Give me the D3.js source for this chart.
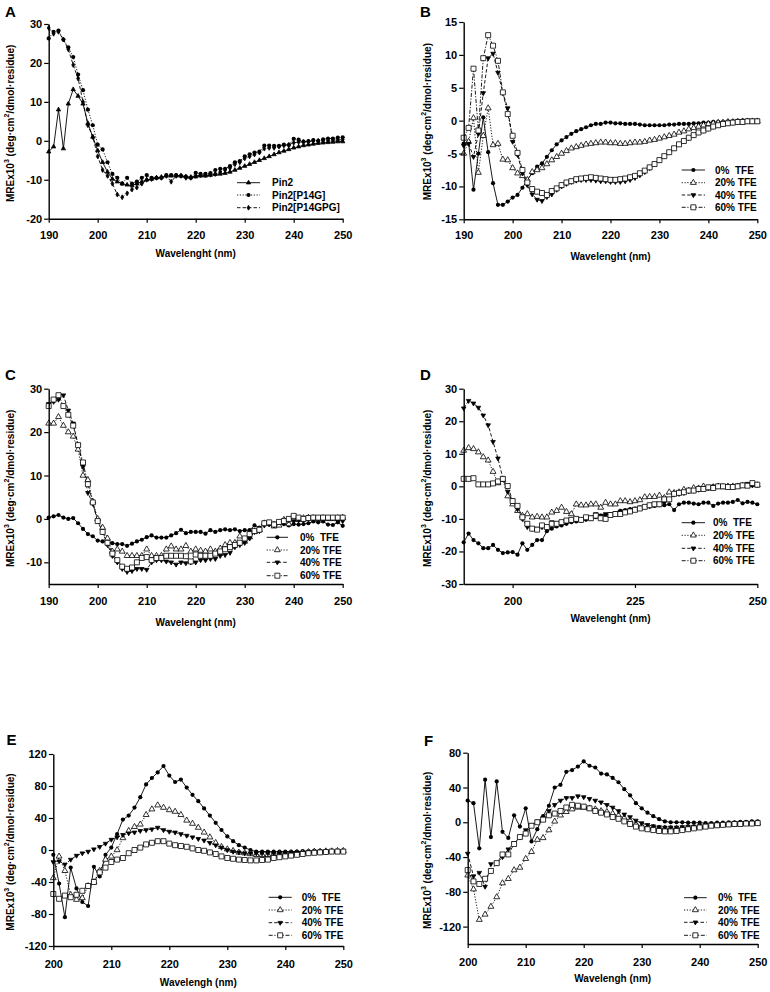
<!DOCTYPE html>
<html>
<head>
<meta charset="utf-8">
<script src="https://cdn.jsdelivr.net/npm/d3@7"></script>
<style>
  html, body { margin: 0; padding: 0; background: #fff; }
  svg { display: block; }
  text { font-family: "Liberation Sans", Arial, Helvetica, sans-serif; font-weight: bold; fill: #000; }
</style>
</head>
<body>
<svg id="chart" width="770" height="992"></svg>
<script>
// ---------------- DATA ----------------
const wl190 = [190,191,192,193,194,195,196,197,198,199,200,201,202,203,204,205,206,207,208,209,210,
  211,212,213,214,215,216,217,218,219,220,221,222,223,224,225,226,227,228,229,230,
  231,232,233,234,235,236,237,238,239,240,241,242,243,244,245,246,247,248,249,250];
const wl200 = [200,201,202,203,204,205,206,207,208,209,210,
  211,212,213,214,215,216,217,218,219,220,221,222,223,224,225,226,227,228,229,230,
  231,232,233,234,235,236,237,238,239,240,241,242,243,244,245,246,247,248,249,250];

// Panel A
const seriesNamesA = ["Pin2", "Pin2[P14G]", "Pin2[P14GPG]"];
const aPin2 = [-2.8,-1.5,8,-2,9.5,13.2,11.5,9.5,4.5,1,-2.5,
  -5.5,-8,-9.8,-10.5,-11,-11.3,-11.5,-11,-10.5,-10,
  -9.8,-9.5,-9.3,-9,-9,-9,-9,-9.2,-9.3,-9.2,
  -9,-9,-8.8,-8.6,-8.5,-8.3,-8,-7.5,-7,-6.5,
  -6,-5.5,-5,-4.5,-4,-3.5,-3,-2.6,-2.2,-1.8,
  -1.5,-1.2,-1,-0.8,-0.6,-0.5,-0.4,-0.3,-0.2,-0.2];
const aP14G = [26.3,28,28.3,26,24,21.5,17,13,8,4,-1,
  -2.2,-5.5,-8.5,-9.5,-11,-9.5,-11,-10.5,-9.5,-8.8,
  -9.5,-9.5,-9.5,-8.8,-8.8,-8.8,-9,-9.2,-9.5,-8.2,
  -8.5,-8.5,-8.3,-7.5,-7.2,-7.2,-6.5,-5.5,-5.2,-4,
  -3.5,-3,-2.8,-1.2,-1.2,-1.3,-1.3,-1,-1.1,0.5,
  0.3,-0.2,-0.1,0.2,0,0.4,0.6,0.6,0.8,0.9];
const aP14GPG = [29,27.5,28,26,23.5,19.5,16,10,4,1,-4,
  -7.5,-9,-11,-13.8,-14.5,-13.5,-12.5,-12,-11,-10,
  -9.8,-9.5,-9.5,-9,-10.5,-9,-9,-9.5,-9.5,-9,
  -8.8,-8.8,-8.7,-8.5,-8,-7.5,-7,-6,-5.5,-4.5,
  -4,-3.5,-3,-2,-1.8,-1.8,-1.5,-1.2,-1,-0.5,
  -0.3,-0.3,-0.2,0,0,0,0,0.2,0.2,0.3];

const tfeNames = ["0%  TFE", "20% TFE", "40% TFE", "60% TFE"];

// Panel B
const b0 = [-3.5,-3.2,-10.5,-5,0.5,-4.8,-9.5,-12.8,-12.8,-12.3,-11.7,
  -11.3,-10.2,-9,-8,-7,-6.5,-5.5,-4.5,-3.6,-3,
  -2.5,-2,-1.6,-1.3,-1,-0.7,-0.5,-0.5,-0.3,-0.3,
  -0.4,-0.4,-0.5,-0.5,-0.5,-0.6,-0.7,-0.7,-0.7,-0.7,
  -0.7,-0.6,-0.6,-0.5,-0.5,-0.5,-0.4,-0.4,-0.3,-0.3,
  -0.2,-0.2,-0.2,-0.1,-0.1,0,0,0,0,0];
const b20 = [-5,-3.2,0.4,-7.9,-2.3,1.9,-3.7,-3.5,-5.9,-6,-7.2,
  -8,-8.4,-9,-7.8,-7.5,-7.2,-6.6,-6,-5.5,-5,
  -4.6,-4.2,-4,-3.8,-3.6,-3.5,-3.4,-3.3,-3.3,-3.4,
  -3.4,-3.5,-3.5,-3.4,-3.3,-3.3,-3.2,-3,-2.9,-2.7,
  -2.5,-2.3,-2.1,-1.8,-1.6,-1.3,-1.1,-0.9,-0.7,-0.5,
  -0.4,-0.3,-0.3,-0.2,-0.2,-0.2,-0.1,-0.1,-0.1,-0.1];
const b40 = [-3.8,-3.5,-5.5,-2,4.2,9.5,10.2,7.3,4.2,1.9,-3.2,
  -5.2,-8,-9.8,-11.2,-12,-12.2,-11.6,-11.2,-10.5,-10,
  -9.6,-9.3,-9.1,-9,-9,-9,-9.1,-9.2,-9.2,-9.3,
  -9.3,-9.3,-9.2,-9,-8.7,-8.3,-7.8,-7.2,-6.6,-6,
  -5.4,-4.8,-4.2,-3.6,-3.1,-2.6,-2.2,-1.8,-1.5,-1.2,
  -0.9,-0.7,-0.5,-0.4,-0.3,-0.2,-0.2,-0.1,-0.1,0];
const b60 = [-2.6,-1.1,7.9,-1.5,9.5,13,11.4,9.1,4.3,1,-2.3,
  -4.9,-7.5,-9.4,-10.4,-10.8,-11,-11.3,-10.7,-10.3,-9.8,
  -9.4,-9.2,-8.9,-8.8,-8.7,-8.6,-8.7,-8.8,-8.9,-9,
  -9,-8.9,-8.8,-8.6,-8.4,-8,-7.6,-7.1,-6.6,-6,
  -5.4,-4.8,-4.2,-3.6,-3.1,-2.6,-2.2,-1.8,-1.5,-1.2,
  -0.9,-0.7,-0.5,-0.4,-0.3,-0.2,-0.2,-0.1,-0.1,-0.1];

// Panel C
const c0 = [0.3,0.6,0.9,0.3,0,0.2,-1,-2.3,-3.5,-4,-5,
  -5.2,-5.2,-5.6,-5.8,-5.8,-6.2,-5.7,-5.2,-4.8,-4.2,
  -3.8,-4.3,-4.3,-4.3,-3.8,-3.3,-2.5,-3.3,-3,-3,
  -3,-3.4,-2.6,-3,-2.6,-2.4,-2.6,-2.4,-2.8,-2.6,
  -2.6,-1.5,-2,-1.2,-1.3,-1,-1.2,-1.2,-1.5,-1.2,
  -1.3,-1.2,-1,-0.6,-0.8,-0.6,-1.3,-1.4,-0.8,-1.6];
const c20 = [22,22,23.5,21.5,20,19,16,10,9,4,0,
  -2,-4.5,-7.5,-7,-7.5,-8.5,-8.5,-8.5,-8.5,-7,
  -8.5,-8.5,-8.5,-7,-6.3,-7,-7,-6.2,-7.5,-7,
  -7.3,-7.5,-7,-7.5,-6.8,-6,-5.5,-5.5,-4,-5.2,
  -4.2,-3,-2.5,-1,-1,-1.7,-1.5,-0.2,-1.2,0,
  -0.2,0.2,0.3,0.2,0,0.2,0,0,0.2,0.3];
const c40 = [26.5,27,27.5,28.5,25,22,17,12,6,3.5,-0.5,
  -3,-6,-8.5,-10,-11.5,-12.2,-12,-11.5,-11.5,-11.7,
  -10,-9.5,-9.5,-9.8,-10,-10.5,-10,-10.2,-10,-10,
  -9.5,-9.5,-9.2,-9.2,-8.5,-8.3,-7.8,-6.5,-6,-5.5,
  -4.5,-3,-2.8,-1.5,-1.2,-1.5,-0.8,-0.5,-0.3,-0.5,
  -0.3,-0.3,0,0,0.2,0,0.2,0.2,-0.5,-0.5];
const c60 = [26,27.5,28.5,26,24,21.5,17,13,8,3.8,-0.5,
  -3,-5.5,-8,-9.5,-11,-11.5,-11.2,-10,-9,-8.8,
  -9.5,-9,-9,-8.5,-8.5,-8.5,-8.5,-8.6,-9.8,-8.2,
  -8.5,-8.5,-8.5,-8,-7.5,-7,-6.5,-6,-5.5,-4.5,
  -3.5,-2.8,-2.5,-1,-0.8,-1.3,-0.7,-0.5,0,0.7,
  0.3,0,0.2,0.3,0.3,0.3,0.3,0.3,0.3,0.3];

// Panel D
const d0 = [-17.2,-14.5,-16.5,-17.5,-19,-19,-18,-19.5,-20.5,-20.3,-20.2,
  -21,-17.5,-19.5,-18,-16.5,-16.5,-13.8,-13,-12.3,-12,
  -11.5,-11,-10.8,-10.5,-10.2,-10,-9.5,-9,-8.8,-8.5,
  -8.2,-7.5,-7.3,-7,-6.8,-6.5,-6.2,-6.2,-6,-5.8,
  -5.8,-5.5,-7.3,-5.5,-5,-5,-5.3,-5.5,-5,-5,
  -6,-5.3,-5,-5,-4.8,-4.2,-5.2,-4.8,-5,-5.5];
const d20 = [11,11.8,11.5,10.5,9,8,4.5,1,2,-3,-5.5,
  -7.5,-9,-8.5,-9.5,-9.3,-9.5,-9.5,-8,-7.5,-6.5,
  -7.8,-8.5,-5.5,-5.8,-5.8,-5.5,-5.5,-6.5,-5,-5.5,
  -5.5,-4.5,-4.5,-4.8,-4.5,-4.2,-3.3,-3.2,-3.2,-2.8,
  -3.5,-1.8,-2,-1.8,-1,-1.3,-0.5,-0.6,0,-0.6,
  -0.2,0,-0.2,0,0,0,0.2,0.3,0.5,0.4];
const d40 = [24,26.3,25.5,24.2,21.8,18.8,13.7,8.6,2.5,-1.6,-4.5,
  -7,-10,-12.5,-13,-13,-12.5,-12.5,-11,-11.3,-11,
  -10.5,-10.5,-10.2,-10.2,-10,-9.5,-8.5,-9,-8.5,-8.5,
  -8.3,-7.8,-7.5,-7.3,-7,-6.5,-6.2,-6,-5.5,-5.3,
  -5,-4,-2.5,-2.3,-2,-1.5,-1.3,-1,-0.5,-0.5,
  0,0,0,0,0,0.3,0.5,0.8,0.3,0.3];
const d60 = [2.3,2.3,2.5,0.6,0.6,0.6,0.9,1.5,2.3,0.1,-4.5,
  -6,-9.5,-11.5,-13,-13.3,-12,-12.5,-11.5,-11.5,-11,
  -10.5,-10.3,-10,-10.3,-9.5,-9.8,-9,-9.8,-10,-8.8,
  -8.5,-8.5,-8,-7.7,-7.2,-6.8,-6.3,-5.8,-5.5,-5.5,
  -4,-4,-2.3,-2,-1.8,-1.3,-1.3,-0.8,-0.8,-0.3,
  -0.5,0,0,-0.2,-0.2,0,0.3,0.2,1,0.5];

// Panel E
const e0 = [-6,-42,-84,-22,-48,-65,-70,-21,-33,-6,3,
  20,38,43,53,66,82,90,97,105,93,
  85,88,78,69,61,52,43,34,25,17,
  11,6,3,0,-2,-2,-2,-2,-2,-2,
  -2,-2,-1.5,-1.5,-1,-1,-1,-1,-1,-1];
const e20 = [-35,-8,-26,-56,-62,-60,-45,-40,-26,-12,-8,
  0,15,24,29,32,44,51,56,53,50,
  48,44,37,33,28,22,16,9,4,1,
  -1,-3,-4,-5,-6,-6,-6,-5.5,-5,-4.5,
  -4,-3.5,-3,-2.5,-2,-2,-1.5,-1.5,-1,-1];
const e40 = [-15,-14,-18,-12,-7,-4,-2,1,4,8,13,
  16,19,21,22,24,25,26,28,25,23,
  22,20,18,16,14,12,9,6,3,0,
  -2,-3,-4,-4,-4,-4,-4,-4,-4,-3.5,
  -3.5,-3,-3,-2.5,-2,-2,-2,-1.5,-1.5,-1];
const e60 = [-55,-61,-57,-59,-56,-51,-45,-40,-28,-22,-15,
  -12,-10,-4,0,3,7,9,11,11,8,
  6,5,4,2,0,-1,-3,-5,-8,-10,
  -11,-12,-12.5,-13,-13,-12.5,-12,-10,-9,-8,
  -7,-6,-5,-4,-3.5,-3,-2.5,-2,-2,-2];

// Panel F
const f0 = [25,22,-30,49,-17,47,-11,-18,8,-5,16,
  -22,-8,7,19,40,43,58,60,64,70,
  65,63,56,55,51,46,38,31,22,16,
  11,7,3.5,1,0,0,0,-0.5,-0.5,-0.5,
  -1,-1,-0.5,-0.5,0,0,0.5,0.5,1,1];
const f20 = [-61,-77,-112,-106,-97,-86,-70,-65,-55,-52,-42,
  -34,-20,-18,-9,1,8,12,15,17,17,
  16,15,13,12,10,8,5,2,-2,-4,
  -5.5,-6,-7,-7,-7,-7,-6.5,-6,-5.5,-5,
  -4.5,-4,-3.5,-3,-2.5,-2,-2,-1.5,-1,-1];
const f40 = [-36,-62,-58,-74,-48,-47,-40,-31,-24,-17,-9,
  -3,1,5,13,20,25,28,28,30,29,
  27,25,23,20,17,13,9,6,2,-1,
  -3,-4.5,-5.5,-6,-6,-6,-5.5,-5,-5,-4.5,
  -4,-3.5,-3,-2.5,-2,-2,-1.5,-1,-1,-0.5];
const f60 = [-55,-68,-71,-65,-56,-47,-37,-37,-25,-17,-13,
  -4,0,3,8,10,13,17,20,19,18,
  16,13,11,9,6,4,1,-2,-5,-7,
  -8,-9,-10,-10.5,-10.5,-10,-9,-8,-7,-6,
  -5,-4,-3.5,-3,-2.5,-2,-2,-1.5,-1.5,-1];

// Tick labels
const xTicks190 = [190,200,210,220,230,240,250];
const xTicksD = [200,225,250];
const xTicks200 = [200,210,220,230,240,250];
const yTicksA = [-20,-10,0,10,20,30];
const yTicksB = [-15,-10,-5,0,5,10,15];
const yTicksC = [-10,0,10,20,30];
const yTicksD = [-30,-20,-10,0,10,20,30];
const yTicksE = [-120,-80,-40,0,40,80,120];
const yTicksF = [-120,-80,-40,0,40,80];

const xTitleNm = "Wavelenght (nm)";
const xTitleEF = "Wavelengh (nm)";

// ---------------- STYLES ----------------
const STY = {
  solid:  { dash: null },
  dotted: { dash: "1.2,1.6" },
  dashed: { dash: "3.5,2" },
  dashdot:{ dash: "4,1.6,1.2,1.6" }
};
const tfeStyles = [
  { line: "solid",  marker: "circleFilled" },
  { line: "dotted", marker: "triOpen" },
  { line: "dashed", marker: "triDownFilled" },
  { line: "dashdot",marker: "squareOpen" }
];
const aStyles = [
  { line: "solid",  marker: "triFilled" },
  { line: "dotted", marker: "circleFilled" },
  { line: "dashed", marker: "diamondFilled" }
];

function tfeSeries(vals) {
  return vals.map((v, i) => ({ name: tfeNames[i], values: v, style: tfeStyles[i] }));
}

const panels = [
  { letter: "A", lx: 5, ly: 16.7,
    plot: { l: 48.7, r: 342.7, t: 24, b: 218.7 },
    x: wl190, xDomain: [190, 250], xTicks: xTicks190, yDomain: [-20, 30], yTicks: yTicksA,
    xTitle: xTitleNm, xLabY: 235, xTitleY: 253, yTitleX: 10, yTitleDY: 2,
    legend: { x1: 237, x2: 260, tx: 272, ys: [182.7, 195, 207.7] },
    series: [aPin2, aP14G, aP14GPG].map((v, i) => ({ name: seriesNamesA[i], values: v, style: aStyles[i] })) },
  { letter: "B", lx: 420, ly: 16.7,
    plot: { l: 463.7, r: 757.3, t: 22, b: 219.3 },
    x: wl190, xDomain: [190, 250], xTicks: xTicks190, yDomain: [-15, 15], yTicks: yTicksB,
    xTitle: xTitleNm, xLabY: 234.7, xTitleY: 256, yTitleX: 427, yTitleDY: 1,
    legend: { x1: 681.7, x2: 705, tx: 715, ys: [170, 182.7, 195, 207.3] },
    series: tfeSeries([b0, b20, b40, b60]) },
  { letter: "C", lx: 5, ly: 380,
    plot: { l: 48.7, r: 342.7, t: 388.7, b: 584 },
    x: wl190, xDomain: [190, 250], xTicks: xTicks190, yDomain: [-15, 30], yTicks: yTicksC,
    xTitle: xTitleNm, xLabY: 600.7, xTitleY: 622, yTitleX: 10, yTitleDY: 2,
    legend: { x1: 266.7, x2: 288, tx: 300, ys: [537.3, 550, 562.3, 575.7] },
    series: tfeSeries([c0, c20, c40, c60]) },
  { letter: "D", lx: 420, ly: 380,
    plot: { l: 463.7, r: 757.3, t: 388.7, b: 584 },
    x: wl190, xDomain: [190, 250], xTicks: xTicksD, yDomain: [-30, 30], yTicks: yTicksD,
    xTitle: xTitleNm, xLabY: 600.7, xTitleY: 618.7, yTitleX: 427, yTitleDY: 2,
    legend: { x1: 681.7, x2: 705, tx: 713, ys: [522.7, 535.3, 548.3, 560.7] },
    series: tfeSeries([d0, d20, d40, d60]) },
  { letter: "E", lx: 6.5, ly: 745,
    plot: { l: 53.3, r: 343.3, t: 754, b: 946 },
    x: wl200, xDomain: [200, 250], xTicks: xTicks200, yDomain: [-120, 120], yTicks: yTicksE,
    xTitle: xTitleEF, xLabY: 964, xTitleY: 982, yTitleX: 10, yTitleDY: 2,
    legend: { x1: 268.7, x2: 291.7, tx: 301.7, ys: [897.3, 910, 922.7, 935.3] },
    series: tfeSeries([e0, e20, e40, e60]) },
  { letter: "F", lx: 424, ly: 746,
    plot: { l: 467.7, r: 757.7, t: 752.7, b: 944 },
    x: wl200, xDomain: [200, 250], xTicks: xTicks200, yDomain: [-140, 80], yTicks: yTicksF,
    xTitle: xTitleEF, xLabY: 961.7, xTitleY: 978.7, yTitleX: 427, yTitleDY: 2,
    legend: { x1: 684, x2: 706.7, tx: 718, ys: [897.7, 910, 922.3, 935.3] },
    series: tfeSeries([f0, f20, f40, f60]) }
];

// ---------------- DRAW ----------------
const svg = d3.select("#chart");

function drawMarker(g, type, cx, cy) {
  let path, fill = "#000", stroke = "#000", sw = 0.8, rot = 0;
  switch (type) {
    case "circleFilled":
      g.append("circle").attr("cx", cx).attr("cy", cy).attr("r", 2.1)
        .attr("fill", "#000").attr("stroke", "none");
      return;
    case "triOpen":
      path = d3.symbol().type(d3.symbolTriangle).size(15)(); fill = "#fff"; break;
    case "triDownFilled":
      path = d3.symbol().type(d3.symbolTriangle).size(9)(); rot = 180; break;
    case "squareOpen":
      path = d3.symbol().type(d3.symbolSquare).size(25)(); fill = "#fff"; break;
    case "triFilled":
      path = d3.symbol().type(d3.symbolTriangle).size(8)(); break;
    case "diamondFilled":
      path = d3.symbol().type(d3.symbolDiamond).size(7)(); break;
  }
  g.append("path").attr("d", path)
    .attr("transform", `translate(${cx},${cy}) rotate(${rot})`)
    .attr("fill", fill).attr("stroke", stroke).attr("stroke-width", sw);
}

panels.forEach(p => {
  const x = d3.scaleLinear().domain(p.xDomain).range([p.plot.l, p.plot.r]);
  const y = d3.scaleLinear().domain(p.yDomain).range([p.plot.b, p.plot.t]);
  const g = svg.append("g");

  // data lines
  p.series.forEach(s => {
    const pts = p.x.map((w, i) => [w, s.values[i]]);
    g.append("path")
      .datum(pts)
      .attr("fill", "none")
      .attr("stroke", "#000")
      .attr("stroke-width", 0.9)
      .attr("stroke-dasharray", STY[s.style.line].dash)
      .attr("d", d3.line().x(d => x(d[0])).y(d => y(d[1])));
  });
  // markers
  p.series.forEach(s => {
    const mg = g.append("g");
    p.x.forEach((w, i) => drawMarker(mg, s.style.marker, x(w), y(s.values[i])));
  });

  // axes
  const yAxis = d3.axisLeft(y).tickValues(p.yTicks).tickSize(4.5).tickSizeOuter(0)
    .tickPadding(2).tickFormat(d => String(d));
  const ya = g.append("g").attr("transform", `translate(${p.plot.l},0)`).call(yAxis);
  const xAxis = d3.axisBottom(x).tickValues(p.xTicks).tickSize(4).tickSizeOuter(0)
    .tickFormat(d => String(d));
  const xa = g.append("g").attr("transform", `translate(0,${p.plot.b})`).call(xAxis);
  [ya, xa].forEach(a => {
    a.select(".domain").attr("stroke", "#000").attr("stroke-width", 1.4);
    a.selectAll(".tick line").attr("stroke", "#000").attr("stroke-width", 1.2);
    a.selectAll("text").attr("font-size", "11px").attr("font-weight", "bold")
      .attr("fill", "#000").style("font-family", '"Liberation Sans", Arial, sans-serif');
  });
  xa.selectAll(".tick text").attr("y", p.xLabY - p.plot.b).attr("dy", "0.36em");

  // axis titles
  g.append("text")
    .attr("x", (p.plot.l + p.plot.r) / 2).attr("y", p.xTitleY)
    .attr("text-anchor", "middle").attr("dominant-baseline", "central")
    .attr("font-size", "10px").text(p.xTitle);

  const yt = g.append("text")
    .attr("transform", `translate(${p.yTitleX},${(p.plot.t + p.plot.b) / 2 + p.yTitleDY}) rotate(-90)`)
    .attr("text-anchor", "middle").attr("dominant-baseline", "central")
    .attr("font-size", "10px");
  yt.append("tspan").text("MREx10");
  yt.append("tspan").attr("baseline-shift", "super").attr("font-size", "7px").text("3");
  yt.append("tspan").text(" (deg\u00B7cm");
  yt.append("tspan").attr("baseline-shift", "super").attr("font-size", "7px").text("2");
  yt.append("tspan").text("/dmol\u00B7residue)");

  // panel letter
  g.append("text").attr("x", p.lx).attr("y", p.ly)
    .attr("font-size", "15px").text(p.letter);

  // legend
  const lg = g.append("g");
  p.series.forEach((s, i) => {
    const ly = p.legend.ys[i];
    lg.append("line")
      .attr("x1", p.legend.x1).attr("x2", p.legend.x2)
      .attr("y1", ly).attr("y2", ly)
      .attr("stroke", "#000").attr("stroke-width", 0.9)
      .attr("stroke-dasharray", STY[s.style.line].dash);
    drawMarker(lg, s.style.marker, (p.legend.x1 + p.legend.x2) / 2, ly);
    lg.append("text")
      .attr("x", p.legend.tx).attr("y", ly)
      .attr("dominant-baseline", "central")
      .attr("font-size", "10px")
      .attr("xml:space", "preserve")
      .style("white-space", "pre")
      .text(s.name);
  });
});
</script>
</body>
</html>
